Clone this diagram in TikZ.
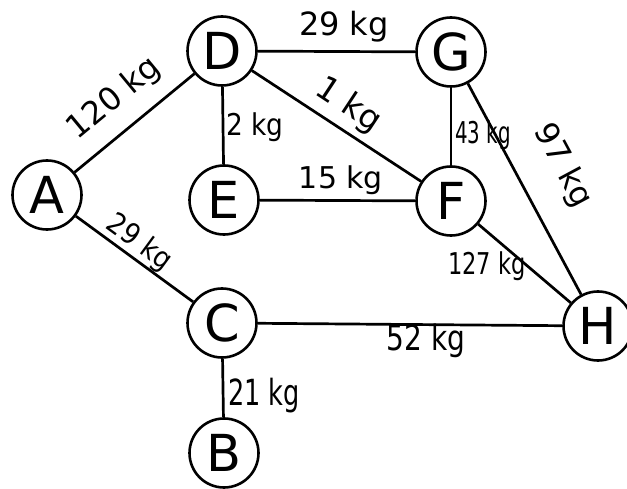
\documentclass[tikz,border=0pt]{standalone}
\usepackage{fontspec}
\usepackage{graphicx}
\setmainfont{DejaVu Sans}
\tikzset{
  vert/.style={circle, draw, line width=2.6pt, minimum size=69pt, inner sep=0pt,
    font=\fontsize{51}{51}\selectfont, text height=37pt, text depth=0pt},
  edge/.style={line width=2.7pt},
  lbl/.style={inner sep=0pt, font=\fontsize{30}{30}\selectfont, text height=22.8pt, text depth=7pt},
}
\newcommand{\sq}[2]{\scalebox{#1}[1]{#2}}
\begin{document}
\begin{tikzpicture}[x=1pt,y=-1pt]
\clip (0,0) rectangle (627,489);
\fill[white] (0,0) rectangle (627,489);
\node[vert] (A) at (47,195) {A};
\node[vert] (D) at (222,51) {D};
\node[vert] (G) at (451,52) {G};
\node[vert] (E) at (224,200) {E};
\node[vert] (F) at (451,201) {F};
\node[vert] (C) at (222,323) {C};
\node[vert] (H) at (598,326) {H};
\node[vert] (B) at (224,453) {B};
\draw[edge] (A) -- (D);
\draw[edge] (A) -- (C);
\draw[edge] (D) -- (G);
\draw[edge] (D) -- (E);
\draw[edge] (D) -- (F);
\draw[edge] (E) -- (F);
\draw[edge] (G) -- (F);
\draw[edge] (G) -- (H);
\draw[edge] (F) -- (H);
\draw[edge] (C) -- (H);
\draw[edge] (C) -- (B);
\node[lbl, rotate=39.6, font=\fontsize{32}{32}\selectfont, text height=24pt, text depth=7.5pt] (lAD) at (115,99) {120 kg};
\node[lbl, font=\fontsize{32}{32}\selectfont] (lDG) at (344,28) {29 kg};
\node[lbl] (lDE) at (255,128) {\sq{0.88}{2 kg}};
\node[lbl, rotate=-33.4, font=\fontsize{33}{33}\selectfont, text height=25pt, text depth=8pt] (lDF) at (348,106) {1 kg};
\node[lbl] (lGF) at (483,136) {\sq{0.66}{43 kg}};
\node[lbl, rotate=-61.8, font=\fontsize{32}{32}\selectfont, text height=24pt, text depth=7.5pt] (lGH) at (562,166) {97 kg};
\node[lbl] (lEF) at (341,181) {15 kg};
\node[lbl, rotate=-36.2, font=\fontsize{29}{29}\selectfont] (lAC) at (139,243) {\sq{0.9}{29 kg}};
\node[lbl] (lFH) at (487,267) {\sq{0.75}{127 kg}};
\node[lbl, font=\fontsize{35}{35}\selectfont, text height=26pt, text depth=8pt] (lCH) at (426,342) {\sq{0.8}{52 kg}};
\node[lbl, font=\fontsize{36}{36}\selectfont, text height=26.5pt, text depth=8.5pt] (lCB) at (264,396) {\sq{0.71}{21 kg}};
\end{tikzpicture}
\end{document}
